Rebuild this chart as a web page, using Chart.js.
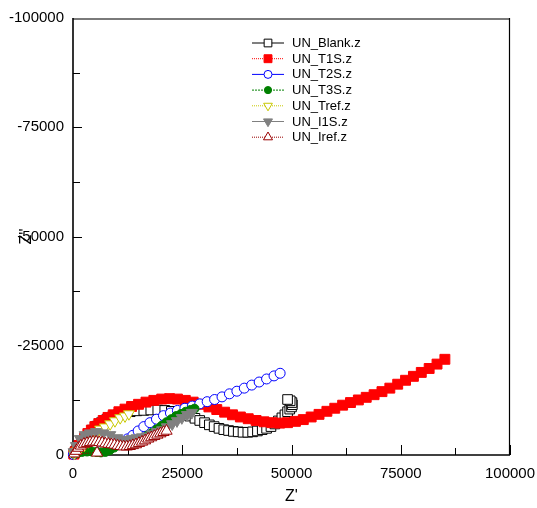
<!DOCTYPE html>
<html>
<head>
<meta charset="utf-8">
<title>Nyquist plot</title>
<script src="https://cdn.jsdelivr.net/npm/chart.js@4.4.1/dist/chart.umd.min.js"></script>
<style>
  html, body { margin: 0; padding: 0; background: #fff; }
  #wrap { width: 537px; height: 508px; }
</style>
</head>
<body>
<div id="wrap"><canvas id="nyquist" width="537" height="508"></canvas></div>
<script>
// Impedance spectra: Z' (real) and Z'' (imaginary, negative) in ohms
const blankZre = [200, 500, 900, 1400, 2000, 2700, 3500, 4400, 5400, 6500, 7700, 9000, 10300, 11700, 13100, 14600, 16200, 17800, 19400, 21000, 22500, 24000, 25400, 26700, 27900, 29000, 30100, 31200, 32300, 33400, 34500, 35600, 36700, 37800, 38900, 40000, 41100, 42200, 43300, 44300, 45300, 46200, 47000, 47800, 48500, 49100, 49600, 50000, 50200, 50100, 49700, 49100];
const blankZim = [-300, -800, -1400, -2200, -3000, -3900, -4800, -5700, -6600, -7400, -8100, -8700, -9200, -9600, -9900, -10100, -10200, -10300, -10300, -10200, -10000, -9700, -9300, -8900, -8400, -7900, -7400, -6900, -6500, -6100, -5800, -5600, -5400, -5300, -5200, -5200, -5300, -5500, -5800, -6100, -6500, -7100, -7800, -8500, -9200, -9900, -10500, -11000, -11500, -12000, -12400, -12700];

const t1sZre = [200, 500, 900, 1400, 2000, 2700, 3400, 4200, 5000, 5900, 6900, 8000, 9200, 10500, 11900, 13400, 15000, 16700, 18500, 20300, 22100, 23900, 25700, 27500, 29300, 31100, 32900, 34700, 36500, 38300, 40100, 41900, 43700, 45500, 47300, 49100, 50900, 52700, 54500, 56300, 58100, 59900, 61700, 63500, 65300, 67100, 68900, 70700, 72500, 74300, 76100, 77900, 79700, 81500, 83300, 85100];
const t1sZim = [-200, -700, -1400, -2200, -3100, -4000, -4900, -5700, -6500, -7200, -7900, -8600, -9200, -9900, -10500, -11100, -11600, -12100, -12500, -12800, -12900, -12800, -12500, -12100, -11600, -11000, -10400, -9800, -9200, -8700, -8300, -7900, -7600, -7400, -7300, -7400, -7700, -8100, -8700, -9300, -10000, -10700, -11400, -12000, -12600, -13200, -13800, -14500, -15300, -16200, -17100, -18000, -18900, -19800, -20800, -21900];

const t2sZre = [100, 600, 1500, 2600, 3900, 5300, 6800, 8300, 9800, 11200, 12500, 13700, 14900, 16200, 17600, 19100, 20700, 22300, 23900, 25600, 27300, 29000, 30700, 32400, 34100, 35800, 37500, 39200, 40900, 42600, 44300, 46000, 47400];
const t2sZim = [-100, -600, -1100, -1500, -1800, -2000, -2200, -2400, -2700, -3100, -3700, -4500, -5500, -6500, -7400, -8200, -9000, -9600, -10200, -10700, -11200, -11700, -12200, -12700, -13300, -14000, -14600, -15300, -16000, -16700, -17400, -18100, -18700];

const t3sZre = [300, 1100, 2100, 3200, 4300, 5400, 6400, 7400, 8400, 9400, 10400, 11500, 12600, 13700, 14800, 15900, 17000, 18100, 19200, 20300, 21400, 22500, 23600, 24700, 25800, 26900, 27800];
const t3sZim = [-200, -500, -700, -800, -800, -700, -600, -700, -1100, -1700, -2300, -2800, -3000, -3200, -3400, -3800, -4400, -5100, -5900, -6700, -7500, -8200, -8900, -9400, -9900, -10300, -10600];

const trefZre = [300, 900, 1700, 2600, 3500, 4400, 5300, 6200, 7300, 8500, 9600, 10800, 11900, 12800];
const trefZim = [-300, -900, -1500, -2200, -3000, -3900, -4900, -5900, -6400, -7100, -7800, -8500, -8900, -9400];

const i1sZre = [200, 700, 1600, 2700, 3900, 5300, 6900, 8500, 10100, 11200, 12400, 13500, 14600, 15800, 16900, 18100, 19200, 20400, 21500, 22700, 23800, 24900, 26100, 27200];
const i1sZim = [-700, -2100, -3700, -4600, -5000, -5300, -5000, -4600, -3900, -3500, -3400, -3700, -3900, -4100, -4300, -4800, -5300, -5700, -6400, -7100, -7800, -8500, -9200, -9700];

const irefZre = [5500, 300, 700, 1200, 1800, 2500, 3200, 3900, 4600, 5300, 6000, 6700, 7400, 8100, 8800, 9500, 10200, 10900, 11600, 12300, 13000, 13700, 14400, 15100, 15800, 16500, 17200, 17900, 18600, 19300, 20000, 20700, 21400];
const irefZim = [-500, -300, -900, -1600, -2100, -2500, -2700, -2900, -3000, -3000, -2900, -2800, -2600, -2500, -2400, -2300, -2100, -2000, -1900, -1900, -2000, -2200, -2400, -2700, -3000, -3300, -3700, -4000, -4300, -4600, -4900, -5200, -5500];

// Axis ticks
const xTicks = [0, 25000, 50000, 75000, 100000];
const xMinor = [12500, 37500, 62500, 87500];
const yTicks = [0, -25000, -50000, -75000, -100000];
const yMinor = [-12500, -37500, -62500, -87500];

const FONT = '"Liberation Sans", Arial, Helvetica, sans-serif';

function pts(xs, ys) {
  return xs.map((x, i) => ({ x: x, y: ys[i] }));
}

// one entry per file, in legend order
const series = [
  { label: 'UN_Blank.z', data: pts(blankZre, blankZim), color: '#000000', fill: '#ffffff', dash: [], style: 'rect', r: 6.8, rot: 0 },
  { label: 'UN_T1S.z', data: pts(t1sZre, t1sZim), color: '#ff0000', fill: '#ff0000', dash: [1, 1], style: 'rect', r: 7, rot: 0 },
  { label: 'UN_T2S.z', data: pts(t2sZre, t2sZim), color: '#0000ff', fill: '#ffffff', dash: [], style: 'circle', r: 5, rot: 0 },
  { label: 'UN_T3S.z', data: pts(t3sZre, t3sZim), color: '#008000', fill: '#008000', dash: [2, 1], style: 'circle', r: 4.5, rot: 0 },
  { label: 'UN_Tref.z', data: pts(trefZre, trefZim), color: '#c8c800', fill: '#ffffff', dash: [1, 1], style: 'triangle', r: 6.3, rot: 180 },
  { label: 'UN_I1S.z', data: pts(i1sZre, i1sZim), color: '#808080', fill: '#808080', dash: [], style: 'triangle', r: 6.5, rot: 180 },
  { label: 'UN_Iref.z', data: pts(irefZre, irefZim), color: '#990000', fill: '#ffffff', dash: [1, 1], style: 'triangle', r: 6.5, rot: 0 }
];

// frame and inward tick marks, under the data
const frameTicks = {
  id: 'frameTicks',
  beforeDatasetsDraw(chart) {
    const { ctx, chartArea: a, scales: { x, y } } = chart;
    const seg = (x1, y1, x2, y2) => { ctx.beginPath(); ctx.moveTo(x1, y1); ctx.lineTo(x2, y2); ctx.stroke(); };
    ctx.save();
    ctx.strokeStyle = '#000';
    ctx.lineWidth = 1;
    xTicks.forEach(v => { const p = Math.round(x.getPixelForValue(v)) + 0.5; seg(p, a.bottom, p, a.bottom - 10); });
    xMinor.forEach(v => { const p = Math.round(x.getPixelForValue(v)) + 0.5; seg(p, a.bottom, p, a.bottom - 7); });
    yTicks.forEach(v => { const p = Math.round(y.getPixelForValue(v)) + 0.5; seg(a.left, p, a.left + 9, p); });
    yMinor.forEach(v => { const p = Math.round(y.getPixelForValue(v)) + 0.5; seg(a.left, p, a.left + 7, p); });

    ctx.strokeStyle = '#7a7a7a';
    ctx.lineWidth = 2;
    seg(a.left, a.top + 1, a.right, a.top + 1);
    ctx.strokeStyle = '#000';
    ctx.lineWidth = 1.2;
    seg(a.right - 0.5, a.top, a.right - 0.5, a.bottom);
    ctx.lineWidth = 1.6;
    seg(a.left, a.top, a.left, a.bottom + 0.8);
    seg(a.left, a.bottom, a.right, a.bottom);
    ctx.restore();
  }
};

// key box and axis titles
const keyAndTitles = {
  id: 'keyAndTitles',
  afterDraw(chart) {
    const ctx = chart.ctx;
    const a = chart.chartArea;
    ctx.save();
    chart.data.datasets.forEach((ds, i) => {
      const ly = 43 + i * 15.7;
      ctx.strokeStyle = ds.borderColor;
      ctx.lineWidth = 1;
      ctx.setLineDash(ds.borderDash);
      ctx.beginPath();
      ctx.moveTo(252, ly);
      ctx.lineTo(284, ly);
      ctx.stroke();
      ctx.setLineDash([]);
      ctx.fillStyle = ds.pointBackgroundColor;
      ctx.strokeStyle = ds.pointBorderColor;
      Chart.helpers.drawPoint(ctx, {
        pointStyle: ds.pointStyle,
        radius: ds.pointRadius * 0.8,
        rotation: ds.pointRotation,
        borderWidth: 1
      }, 268, ly);
      ctx.fillStyle = '#000';
      ctx.font = '13px ' + FONT;
      ctx.textAlign = 'left';
      ctx.textBaseline = 'middle';
      ctx.fillText(ds.label, 292, ly + 0.5);
    });

    ctx.fillStyle = '#000';
    ctx.font = '16px ' + FONT;
    ctx.textAlign = 'center';
    ctx.textBaseline = 'middle';
    ctx.fillText("Z'", (a.left + a.right) / 2, 497);
    ctx.translate(27, (a.top + a.bottom) / 2);
    ctx.rotate(-Math.PI / 2);
    ctx.fillText("Z''", 0, 0);
    ctx.restore();
  }
};

const n = series.length;
new Chart(document.getElementById('nyquist'), {
  type: 'scatter',
  data: {
    datasets: series.map((s, i) => ({
      label: s.label,
      data: s.data,
      showLine: true,
      borderColor: s.color,
      borderWidth: 1,
      borderDash: s.dash,
      pointStyle: s.style,
      pointRadius: s.r,
      pointRotation: s.rot,
      pointBackgroundColor: s.fill,
      pointBorderColor: s.color,
      pointBorderWidth: 1,
      pointHoverRadius: s.r,
      order: n - 1 - i,
      clip: false
    }))
  },
  options: {
    responsive: false,
    animation: false,
    layout: { padding: { left: 0, right: 27, top: 18, bottom: 0 } },
    plugins: { legend: { display: false }, tooltip: { enabled: false } },
    scales: {
      x: {
        type: 'linear',
        min: 0,
        max: 100000,
        afterFit: s => { s.height = 53; s.paddingLeft = 0; s.paddingRight = 0; },
        afterBuildTicks: s => { s.ticks = xTicks.map(v => ({ value: v })); },
        grid: { display: false, drawTicks: false },
        border: { display: false },
        ticks: {
          padding: 10,
          color: '#000',
          maxRotation: 0,
          font: { family: FONT, size: 15 },
          callback: v => String(v)
        }
      },
      y: {
        type: 'linear',
        min: -100000,
        max: 0,
        reverse: true,
        afterFit: s => { s.width = 73; s.paddingTop = 0; s.paddingBottom = 0; },
        afterBuildTicks: s => { s.ticks = yTicks.map(v => ({ value: v })); },
        grid: { display: false, drawTicks: false },
        border: { display: false },
        ticks: {
          padding: 9,
          color: '#000',
          font: { family: FONT, size: 15 },
          callback: v => String(v)
        }
      }
    }
  },
  plugins: [frameTicks, keyAndTitles]
});
</script>
</body>
</html>
